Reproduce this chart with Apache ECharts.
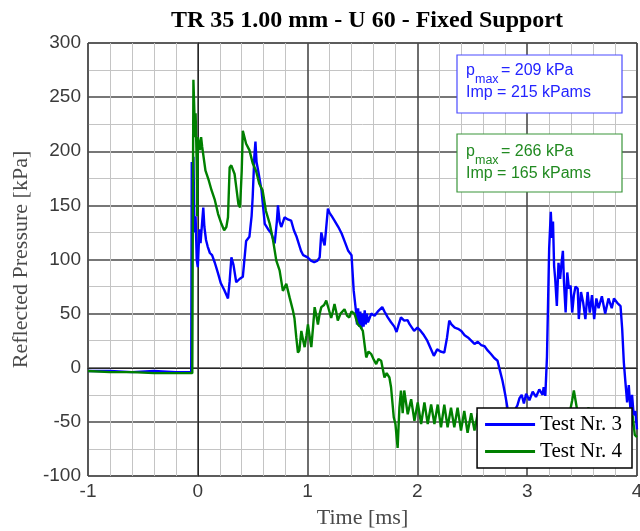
<!DOCTYPE html>
<html>
<head>
<meta charset="utf-8">
<script src="https://cdn.jsdelivr.net/npm/echarts@6/dist/echarts.min.js"></script>
<style>html,body{margin:0;padding:0;background:#fff}#c{width:640px;height:531px}</style>
</head>
<body>
<div id="c"></div>
<script>
// ---- data ----
var titleText = 'TR 35 1.00 mm - U 60 - Fixed Support';
var xName = 'Time [ms]';
var yName = 'Reflected Pressure [kPa]';
var seriesNames = ['Test Nr. 3', 'Test Nr. 4'];
var xTicks = [-1, 0, 1, 2, 3, 4];
var yTicks = [-100, -50, 0, 50, 100, 150, 200, 250, 300];

var t3 = [-1.00,-0.80,-0.60,-0.40,-0.20,-0.06,-0.055,-0.045,-0.04,-0.03,-0.02,-0.01,0.00,0.015,0.025,0.04,0.05,0.06,0.075,0.09,0.11,0.13,0.155,0.17,0.185,0.21,0.24,0.275,0.29,0.306,0.325,0.35,0.38,0.41,0.44,0.47,0.49,0.50,0.515,0.525,0.535,0.55,0.58,0.61,0.64,0.67,0.70,0.72,0.73,0.745,0.76,0.79,0.82,0.85,0.875,0.90,0.94,0.96,1.00,1.03,1.06,1.09,1.11,1.125,1.14,1.155,1.17,1.185,1.20,1.22,1.245,1.28,1.31,1.34,1.37,1.40,1.42,1.44,1.45,1.46,1.47,1.48,1.49,1.50,1.51,1.52,1.53,1.54,1.55,1.58,1.61,1.64,1.68,1.70,1.73,1.76,1.79,1.81,1.83,1.85,1.88,1.91,1.93,1.97,2.00,2.03,2.06,2.09,2.12,2.15,2.18,2.21,2.245,2.27,2.29,2.31,2.34,2.37,2.40,2.43,2.46,2.49,2.52,2.55,2.58,2.61,2.64,2.67,2.70,2.73,2.75,2.775,2.80,2.82,2.85,2.88,2.91,2.93,2.95,2.97,2.99,3.02,3.05,3.08,3.11,3.14,3.15,3.165,3.18,3.19,3.20,3.215,3.225,3.235,3.245,3.255,3.27,3.285,3.30,3.31,3.325,3.335,3.35,3.365,3.38,3.395,3.41,3.425,3.44,3.46,3.47,3.49,3.51,3.53,3.55,3.57,3.59,3.61,3.63,3.65,3.68,3.71,3.74,3.77,3.79,3.82,3.85,3.865,3.88,3.895,3.91,3.925,3.94,3.955,3.97,3.985,4.00];
var p3 = [-3,-3,-4,-3,-4,-4,190,160,195,125,140,100,93,128,115,135,148,130,118,112,106,104,97,92,87,78,72,64,80,102,95,79,82,84,117,121,140,158,195,209,190,182,164,133,128,124,115,135,150,135,130,139,137,136,127,121,108,104,102,99,97.5,99,102,125,118,113,130,147,143,140,136,130,124,116,108,104,71,53,40,55,38,52,36,50,38,53,40,50,42,50,48,52,56,52,46.5,42,38,33,40,46.5,43.5,44,40,34,37,34,30,25,18,11,17,15,14,28,43.5,40,37,36,34,30,28,25,22,24,21,20,16,12.7,9,6.5,-2,-12,-25,-37,-42,-40,-35,-28,-25,-33,-24,-30,-22,-27,-20,-25,-18,-26,10,60,110,144,120,135,94,82,57,97,82,94,108,79,51,88,73,76,51,67,75,73,45,70,60,45,70,51,67,45,64,55,66,50,64,55,64,60,57,36,5,-14,-32,-16,-38,-25,-44,-40,-57];

var t4 = [-1.00,-0.80,-0.60,-0.40,-0.20,-0.05,-0.045,-0.04,-0.03,-0.025,-0.02,-0.01,-0.005,0.00,0.02,0.03,0.04,0.07,0.10,0.125,0.155,0.185,0.215,0.24,0.26,0.275,0.29,0.305,0.335,0.35,0.37,0.385,0.40,0.41,0.425,0.44,0.47,0.50,0.53,0.56,0.59,0.62,0.655,0.685,0.715,0.745,0.775,0.806,0.836,0.866,0.88,0.897,0.912,0.925,0.943,0.96,0.973,0.99,1.003,1.02,1.034,1.05,1.064,1.08,1.094,1.11,1.125,1.15,1.17,1.19,1.215,1.23,1.245,1.26,1.275,1.30,1.336,1.36,1.38,1.40,1.427,1.457,1.48,1.503,1.534,1.555,1.579,1.60,1.625,1.645,1.67,1.70,1.72,1.745,1.76,1.785,1.80,1.82,1.836,1.85,1.866,1.88,1.912,1.943,1.973,2.003,2.034,2.064,2.094,2.125,2.155,2.185,2.215,2.245,2.275,2.306,2.336,2.366,2.397,2.427,2.457,2.49,2.52,2.55,2.58,2.61,2.64,2.67,2.70,2.73,2.76,2.79,2.82,2.85,2.88,2.91,2.94,2.97,3.00,3.05,3.10,3.15,3.20,3.25,3.30,3.35,3.39,3.41,3.425,3.44,3.46,3.50,3.53,3.56,3.59,3.63,3.67,3.72,3.77,3.82,3.87,3.91,3.94,3.96,3.98,4.00];
var p4 = [-3,-4,-4,-5,-5,-5,150,266,232,213,235,190,140,213,201,213,204,182,173,164,155,142,133,127,130,139,185,187,179,167,151,148,182,219,213,207,201,189,182,170,164,145,133,118,99,90,71,77.5,65,53,46,28,14,16,34,25,19,30,40,28,19,38,56,48,40,50,56,58,62,55,46,52,59,52,43.5,50,54,48,46.5,52,50,40,38,34,9.5,15,12.7,8,3.4,8,6.5,-9,-5,-9,-18,-46,-52,-74,-37,-21,-42,-21,-43,-29,-49,-32,-52,-32,-52,-34,-52,-34,-55,-34,-55,-37,-55,-37,-58,-40,-60,-42,-58,-42,-56,-44,-58,-45,-57,-46,-58,-47,-57,-48,-58,-47,-56,-48,-57,-50,-56,-48,-55,-47,-54,-45,-40,-30,-21,-30,-42,-50,-40,-37,-50,-45,-55,-47,-56,-48,-55,-47,-58,-44,-62,-64];

var box1Lines = ['209 kPa', 'Imp = 215 kPams'];
var box2Lines = ['266 kPa', 'Imp = 165 kPams'];

function zip(a, b) { var r = []; for (var i = 0; i < a.length; i++) r.push([a[i], b[i]]); return r; }

var BLUE = '#0000ff', GREEN = '#008000';
var SERIF = '"Liberation Serif", "Times New Roman", serif';
var SANS = '"Liberation Sans", Arial, sans-serif';

function infoBox(top, color, border, lines, dy) {
  var y0 = top, Z = 100;
  return [
    { type: 'rect', z: Z, shape: { x: 457, y: y0, width: 165, height: 58 }, style: { fill: '#fff', stroke: border, lineWidth: 1.2 } },
    { type: 'text', z: Z + 1, style: { x: 466, y: y0 + dy, text: 'p', font: '16px ' + SANS, fill: color, textVerticalAlign: 'middle' } },
    { type: 'text', z: Z + 1, style: { x: 475, y: y0 + dy + 8.5, text: 'max', font: '12.5px ' + SANS, fill: color, textVerticalAlign: 'middle' } },
    { type: 'text', z: Z + 1, style: { x: 501, y: y0 + dy, text: '= ' + lines[0], font: '16px ' + SANS, fill: color, textVerticalAlign: 'middle' } },
    { type: 'text', z: Z + 1, style: { x: 466, y: y0 + dy + 22, text: lines[1], font: '16px ' + SANS, fill: color, textVerticalAlign: 'middle' } }
  ];
}

var chart = echarts.init(document.getElementById('c'));
chart.setOption({
  animation: false,
  backgroundColor: '#fff',
  title: {
    text: titleText, left: 362, top: 4, textAlign: 'center',
    textStyle: { fontFamily: SERIF, fontWeight: 'bold', fontSize: 24, color: '#000' }
  },
  grid: { left: 88, right: 3, top: 43, bottom: 55, outerBoundsMode: 'none', containLabel: false,
    show: true, borderColor: '#262626', borderWidth: 1, backgroundColor: 'transparent' },
  legend: {
    data: seriesNames, orient: 'vertical', right: 8, top: 408,
    icon: 'rect',
    backgroundColor: '#fff', borderColor: '#000', borderWidth: 1.5,
    padding: [6, 10, 6, 8], itemWidth: 50, itemHeight: 3, itemGap: 6,
    textStyle: { fontFamily: SERIF, fontSize: 21, color: '#000', lineHeight: 21 }
  },
  xAxis: {
    type: 'value', min: xTicks[0], max: xTicks[xTicks.length - 1], interval: 1,
    name: xName, nameLocation: 'middle', nameGap: 31,
    nameTextStyle: { fontFamily: SERIF, fontSize: 22, color: '#4a4a4a' },
    axisLine: { show: true, lineStyle: { color: '#262626', width: 1 } },
    axisTick: { show: false },
    axisLabel: { fontFamily: SANS, fontSize: 19, color: '#3a3a3a', margin: 6 },
    splitLine: { show: true, lineStyle: { color: '#4a4a4a', width: 1.6 } },
    minorTick: { show: false, splitNumber: 5 },
    minorSplitLine: { show: true, lineStyle: { color: '#c4c4c4', width: 1 } }
  },
  yAxis: {
    type: 'value', min: yTicks[0], max: yTicks[yTicks.length - 1], interval: 50,
    name: yName, nameLocation: 'middle', nameGap: 56,
    nameTextStyle: { fontFamily: SERIF, fontSize: 22, color: '#4a4a4a' },
    axisLine: { show: true, lineStyle: { color: '#262626', width: 1 } },
    axisTick: { show: false },
    axisLabel: { fontFamily: SANS, fontSize: 19, color: '#3a3a3a', margin: 7 },
    splitLine: { show: true, lineStyle: { color: '#4a4a4a', width: 1.6 } },
    minorTick: { show: false, splitNumber: 2 },
    minorSplitLine: { show: true, lineStyle: { color: '#c4c4c4', width: 1 } }
  },
  series: [
    { name: seriesNames[0], type: 'line', data: zip(t3, p3), symbol: 'none', showSymbol: false,
      lineStyle: { color: BLUE, width: 2.4 }, itemStyle: { color: BLUE }, z: 3 },
    { name: seriesNames[1], type: 'line', data: zip(t4, p4), symbol: 'none', showSymbol: false,
      lineStyle: { color: GREEN, width: 2.4 }, itemStyle: { color: GREEN }, z: 3 }
  ],
  graphic: infoBox(55, '#2424ff', '#4a4aff', box1Lines, 16).concat(infoBox(134, '#218a21', '#3a963a', box2Lines, 18))
});
</script>
</body>
</html>
